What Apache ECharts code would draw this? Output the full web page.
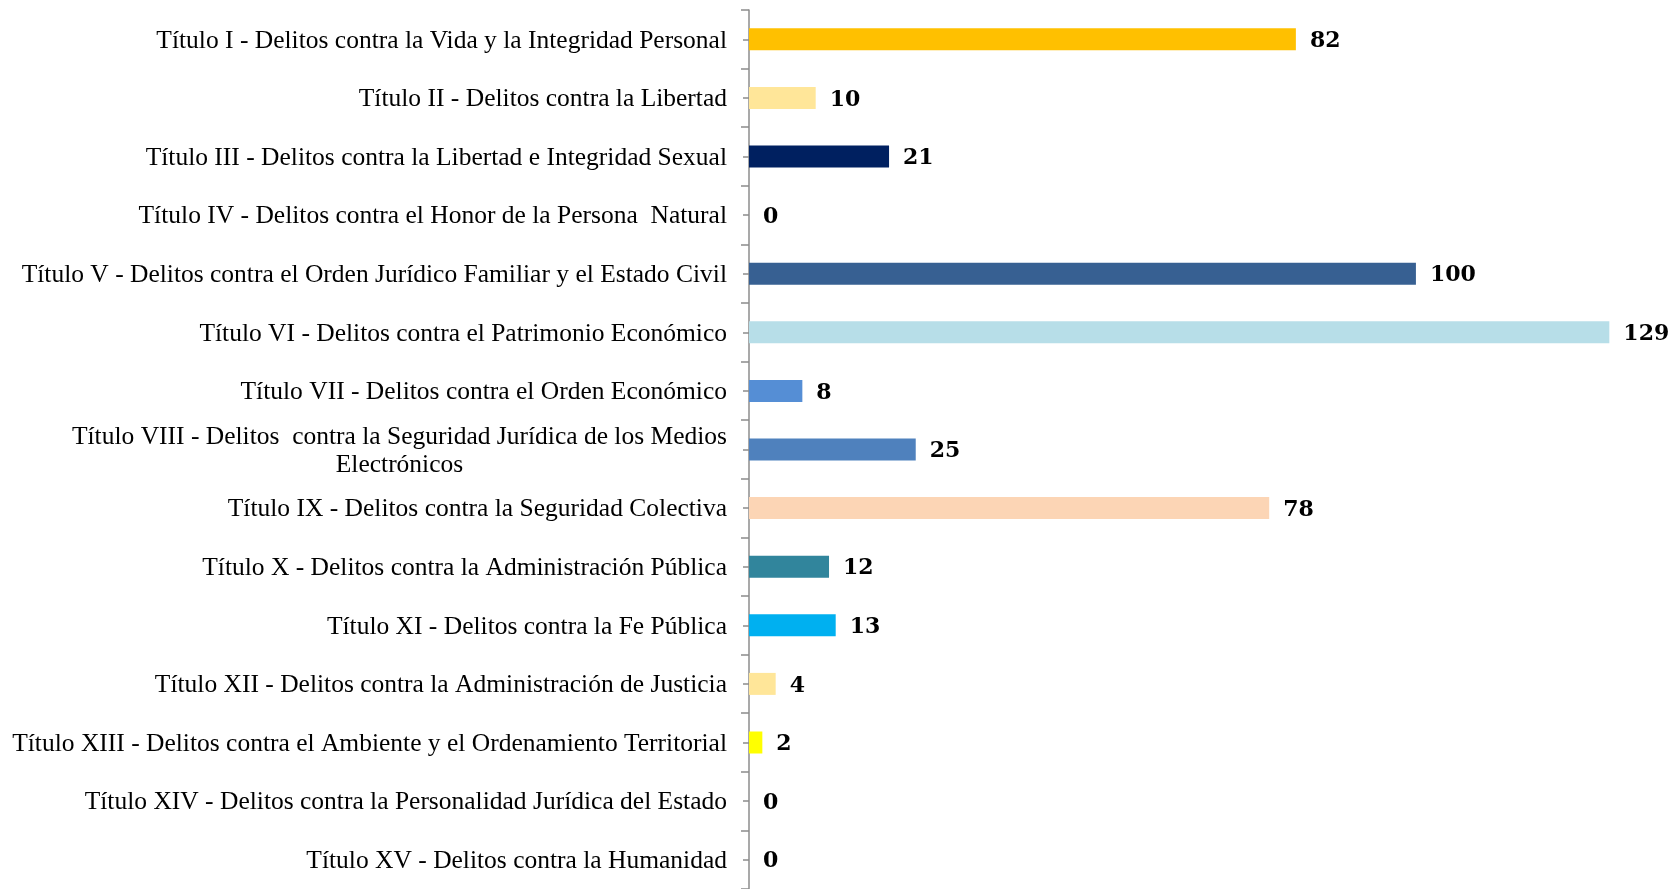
<!DOCTYPE html>
<html>
<head>
<meta charset="utf-8">
<script src="https://cdn.jsdelivr.net/npm/echarts@6/dist/echarts.min.js"></script>
<style>
  html, body { margin: 0; padding: 0; background: #fff; }
  #chart { width: 1680px; height: 889px; }
</style>
</head>
<body>
<div id="chart"></div>
<script>
var titulos = [
  'Título I - Delitos contra la Vida y la Integridad Personal',
  'Título II - Delitos contra la Libertad',
  'Título III - Delitos contra la Libertad e Integridad Sexual',
  'Título IV - Delitos contra el Honor de la Persona  Natural',
  'Título V - Delitos contra el Orden Jurídico Familiar y el Estado Civil',
  'Título VI - Delitos contra el Patrimonio Económico',
  'Título VII - Delitos contra el Orden Económico',
  'Título VIII - Delitos  contra la Seguridad Jurídica de los Medios\nElectrónicos',
  'Título IX - Delitos contra la Seguridad Colectiva',
  'Título X - Delitos contra la Administración Pública',
  'Título XI - Delitos contra la Fe Pública',
  'Título XII - Delitos contra la Administración de Justicia',
  'Título XIII - Delitos contra el Ambiente y el Ordenamiento Territorial',
  'Título XIV - Delitos contra la Personalidad Jurídica del Estado',
  'Título XV - Delitos contra la Humanidad'
];
var casos = [82, 10, 21, 0, 100, 129, 8, 25, 78, 12, 13, 4, 2, 0, 0];
var colores = ['#FFC000', '#FFE699', '#002060', '#A6A6A6', '#376092', '#B7DEE8', '#558ED5',
  '#4F81BD', '#FCD5B5', '#31859C', '#00B0F0', '#FFE699', '#FFFF00', '#A6A6A6', '#A6A6A6'];

var myChart = echarts.init(document.getElementById('chart'));

var option = {
  animation: false,
  grid: { left: 749, top: 10, height: 882, right: 64 },
  xAxis: {
    type: 'value',
    min: 0,
    max: 130,
    show: false
  },
  yAxis: [
    {
      type: 'category',
      inverse: true,
      data: titulos,
      axisLine: { show: true, lineStyle: { color: '#8C8C8C', width: 1.5 } },
      axisTick: { show: true, length: 8, lineStyle: { color: '#8C8C8C', width: 1.5 } },
      axisLabel: {
        margin: 22,
        color: '#000',
        fontFamily: 'Liberation Serif',
        fontSize: 25.5,
        lineHeight: 28,
        padding: [3, 0, 0, 0],
        formatter: function (v) {
          if (v.indexOf('\n') < 0) return v;
          return v.split('\n').map(function (s) { return '{c|' + s + '}'; }).join('\n');
        },
        rich: {
          c: { align: 'center', fontFamily: 'Liberation Serif', fontSize: 25.5, lineHeight: 28, color: '#000' }
        }
      }
    },
    {
      type: 'category',
      inverse: true,
      position: 'left',
      offset: 0,
      data: titulos,
      axisLine: { show: false },
      axisTick: { show: true, alignWithLabel: true, length: 6, lineStyle: { color: '#8C8C8C', width: 1.5 } },
      axisLabel: { show: false }
    }
  ],
  series: [
    {
      type: 'bar',
      barWidth: 22,
      data: casos.map(function (v, i) {
        return { value: v, itemStyle: { color: colores[i] } };
      }),
      label: {
        show: true,
        position: 'right',
        distance: 14,
        offset: [0, 2],
        color: '#000',
        fontFamily: 'DejaVu Serif',
        fontWeight: 'bold',
        fontSize: 22
      }
    }
  ]
};

myChart.setOption(option);
</script>
</body>
</html>
